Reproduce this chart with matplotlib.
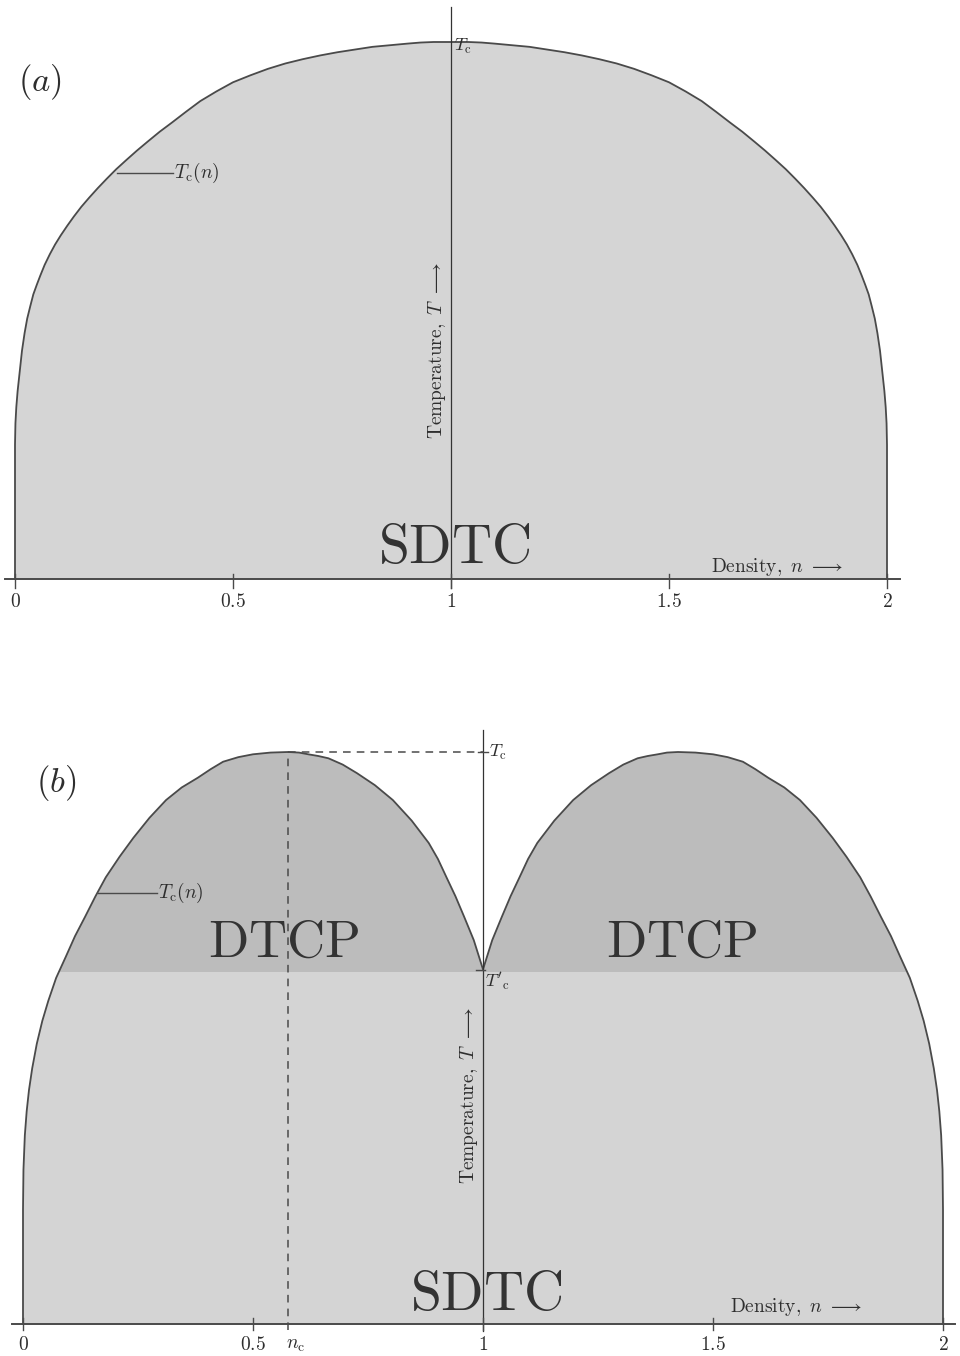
import numpy as np
import matplotlib
matplotlib.use("Agg")
import matplotlib.pyplot as plt
from matplotlib.patches import Rectangle

plt.rcParams["mathtext.fontset"] = "cm"
plt.rcParams["font.family"] = ["DejaVu Serif"]

# ---- (a) 单峰 Tc(n), 读图值 (左半 / 右半) ----
na_left = [0.000, 0.000, 0.001, 0.003, 0.006, 0.010, 0.016, 0.022, 0.028, 0.035, 0.042, 0.050,
           0.058, 0.068, 0.080, 0.092, 0.105, 0.120, 0.135, 0.152, 0.170, 0.190, 0.210, 0.232,
           0.255, 0.280, 0.305, 0.332, 0.360, 0.392, 0.425, 0.462, 0.500, 0.540, 0.580, 0.620,
           0.660, 0.700, 0.740, 0.780, 0.820, 0.860, 0.900, 0.930, 0.960, 0.980, 1.000]
Ta_left = [0.000, 0.250, 0.290, 0.320, 0.350, 0.380, 0.425, 0.458, 0.485, 0.508, 0.530, 0.548,
           0.565, 0.585, 0.605, 0.623, 0.640, 0.658, 0.675, 0.693, 0.710, 0.728, 0.745, 0.763,
           0.780, 0.798, 0.815, 0.833, 0.850, 0.870, 0.890, 0.908, 0.925, 0.938, 0.950, 0.960,
           0.968, 0.975, 0.981, 0.986, 0.991, 0.994, 0.997, 0.999, 1.000, 1.000, 1.000]
na_right = [1.020, 1.040, 1.070, 1.100, 1.140, 1.180, 1.220, 1.260, 1.300, 1.340, 1.380, 1.420,
            1.460, 1.500, 1.538, 1.575, 1.608, 1.640, 1.668, 1.695, 1.720, 1.745, 1.768, 1.790,
            1.810, 1.830, 1.848, 1.865, 1.880, 1.895, 1.908, 1.920, 1.932, 1.942, 1.950, 1.958,
            1.965, 1.972, 1.978, 1.984, 1.990, 1.994, 1.997, 1.999, 2.000, 2.000]
Ta_right = [1.000, 1.000, 0.999, 0.997, 0.994, 0.991, 0.986, 0.981, 0.975, 0.968, 0.960, 0.950,
            0.938, 0.925, 0.908, 0.890, 0.870, 0.850, 0.833, 0.815, 0.798, 0.780, 0.763, 0.745,
            0.728, 0.710, 0.693, 0.675, 0.658, 0.640, 0.623, 0.605, 0.585, 0.565, 0.548, 0.530,
            0.508, 0.485, 0.458, 0.425, 0.380, 0.350, 0.320, 0.290, 0.250, 0.000]

# ---- (b) 双峰 Tc(n): 左峰左侧 / 左峰右侧 / 右峰 ----
nb_l1 = [0.000, 0.000, 0.001, 0.004, 0.008, 0.013, 0.020, 0.030, 0.042, 0.055, 0.072, 0.093,
         0.113, 0.135, 0.157, 0.180, 0.210, 0.240, 0.275, 0.311, 0.345, 0.380, 0.408, 0.435,
         0.468, 0.500, 0.538, 0.576]
Tb_l1 = [0.000, 0.200, 0.270, 0.330, 0.372, 0.409, 0.447, 0.490, 0.530, 0.565, 0.605, 0.642,
         0.678, 0.712, 0.747, 0.781, 0.817, 0.850, 0.885, 0.916, 0.938, 0.955, 0.970, 0.983,
         0.991, 0.996, 0.999, 1.000]
nb_l2 = [0.600, 0.620, 0.642, 0.664, 0.695, 0.726, 0.765, 0.804, 0.845, 0.882, 0.902, 0.920,
         0.940, 0.959, 0.980, 1.000]
Tb_l2 = [0.999, 0.996, 0.993, 0.989, 0.978, 0.963, 0.942, 0.916, 0.880, 0.841, 0.813, 0.782,
         0.748, 0.712, 0.671, 0.620]
nb_r = [1.020, 1.041, 1.060, 1.080, 1.098, 1.118, 1.155, 1.196, 1.235, 1.274, 1.305, 1.336,
        1.358, 1.380, 1.400, 1.424, 1.462, 1.500, 1.532, 1.565, 1.592, 1.620, 1.655, 1.689,
        1.725, 1.760, 1.790, 1.820, 1.843, 1.865, 1.887, 1.907, 1.928, 1.945, 1.958, 1.970,
        1.980, 1.987, 1.992, 1.996, 1.999, 2.000, 2.000]
Tb_r = [0.671, 0.712, 0.748, 0.782, 0.813, 0.841, 0.880, 0.916, 0.942, 0.963, 0.978, 0.989,
        0.993, 0.996, 0.999, 1.000, 0.999, 0.996, 0.991, 0.983, 0.970, 0.955, 0.938, 0.916,
        0.885, 0.850, 0.817, 0.781, 0.747, 0.712, 0.678, 0.642, 0.605, 0.565, 0.530, 0.490,
        0.447, 0.409, 0.372, 0.330, 0.270, 0.200, 0.000]
n_c = 0.576
Tc_b = 1.0
Tcp = 0.615
ticks = [0, 0.5, 1, 1.5, 2]
tick_lbl = ["0", "0.5", "1", "1.5", "2"]

n_a = na_left + na_right
T_a = Ta_left + Ta_right
n_b = nb_l1 + nb_l2 + nb_r
T_b = Tb_l1 + Tb_l2 + Tb_r

W, H = 960, 1356
fig = plt.figure(figsize=(W / 100, H / 100), dpi=100)


def panel(py_top, py_bot, x0, ux, y0, uy):
    # 像素标定: n=0 在 x0, 每单位 ux 像素; T=0 在 y0, 每单位 uy 像素
    ax = fig.add_axes([0, 1 - py_bot / H, 1, (py_bot - py_top) / H])
    ax.set_xlim(-x0 / ux, (W - x0) / ux)
    ax.set_ylim((y0 - py_bot) / uy, (y0 - py_top) / uy)
    ax.axis("off")
    return ax


LC = "#4a4a4a"
TX = "#2e2e2e"
a1 = panel(0, 640, 15, 436, 579, 537)
a2 = panel(680, 1356, 23, 460, 1324, 572)

# ===== (a) =====
a1.fill(n_a, T_a, fc="#d5d5d5", ec="none", zorder=1)
a1.plot(n_a, T_a, color=LC, lw=1.3, zorder=3)
a1.plot([-0.023, 2.03], [0, 0], color=LC, lw=1.4, zorder=3)
a1.plot([1, 1], [-0.016, 1.065], color="#333", lw=0.9, zorder=3)
for t, s in zip(ticks, tick_lbl):
    a1.plot([t, t], [-0.016, 0.01], color=LC, lw=1.0, zorder=3)
    a1.text(t, -0.042, "$%s$" % s, ha="center", va="center", fontsize=14, color=TX)
a1.text(0.057, 0.925, "$(a)$", ha="center", va="center", fontsize=25, color=TX)
a1.plot([0.235, 0.362], [0.756, 0.756], color=LC, lw=1.0, zorder=3)
a1.text(0.365, 0.756, r"$T_\mathrm{c}(n)$", ha="left", va="center", fontsize=14, color=TX)
a1.text(1.008, 0.992, r"$T_\mathrm{c}$", ha="left", va="center", fontsize=13, color=TX)
a1.text(0.993, 0.425, r"$\mathrm{Temperature,}\ T\ \longrightarrow$", rotation=90,
        ha="right", va="center", fontsize=14, color=TX)
a1.text(1.007, 0.03, r"$\mathrm{SDTC}$", ha="center", va="baseline", fontsize=40, color="#333")
a1.text(1.899, 0.013, r"$\mathrm{Density,}\ n\ \longrightarrow$", ha="right", va="baseline",
        fontsize=14, color=TX)

# ===== (b) =====
fb = a2.fill(n_b, T_b, fc="#bcbcbc", ec="none", zorder=1)[0]
low = Rectangle((-0.1, 0), 2.2, Tcp, fc="#d4d4d4", ec="none", zorder=2)
a2.add_patch(low)
low.set_clip_path(fb)
a2.plot(n_b, T_b, color=LC, lw=1.3, zorder=3)
a2.plot([-0.025, 2.025], [0, 0], color=LC, lw=1.4, zorder=3)
a2.plot([1, 1], [-0.012, 1.038], color="#333", lw=0.9, zorder=3)
a2.plot([n_c, n_c], [-0.01, Tc_b], color=LC, lw=1.1, ls=(0, (5, 4)), zorder=3)
a2.plot([n_c, 1], [Tc_b, Tc_b], color=LC, lw=1.1, ls=(0, (5, 4)), zorder=3)
a2.plot([0.99, 1.01], [Tc_b, Tc_b], color=LC, lw=1.0, zorder=3)
a2.plot([0.985, 1.005], [Tcp + 0.004, Tcp + 0.004], color=LC, lw=1.0, zorder=3)
for t, s in zip(ticks, tick_lbl):
    a2.plot([t, t], [-0.011, 0.011], color=LC, lw=1.0, zorder=3)
    a2.text(t, -0.037, "$%s$" % s, ha="center", va="center", fontsize=14, color=TX)
a2.text(n_c + 0.016, -0.037, r"$n_\mathrm{c}$", ha="center", va="center", fontsize=14, color=TX)
a2.text(0.072, 0.946, "$(b)$", ha="center", va="center", fontsize=25, color=TX)
a2.plot([0.163, 0.291], [0.753, 0.753], color=LC, lw=1.0, zorder=3)
a2.text(0.294, 0.753, r"$T_\mathrm{c}(n)$", ha="left", va="center", fontsize=14, color=TX)
a2.text(1.012, Tc_b, r"$T_\mathrm{c}$", ha="left", va="center", fontsize=13, color=TX)
a2.text(1.004, 0.600, r"$T'_\mathrm{c}$", ha="left", va="center", fontsize=13, color=TX)
a2.text(0.567, 0.642, r"$\mathrm{DTCP}$", ha="center", va="baseline", fontsize=38, color="#333")
a2.text(1.433, 0.642, r"$\mathrm{DTCP}$", ha="center", va="baseline", fontsize=38, color="#333")
a2.text(0.994, 0.40, r"$\mathrm{Temperature,}\ T\ \longrightarrow$", rotation=90,
        ha="right", va="center", fontsize=14, color=TX)
a2.text(1.008, 0.0245, r"$\mathrm{SDTC}$", ha="center", va="baseline", fontsize=40, color="#333")
a2.text(1.824, 0.021, r"$\mathrm{Density,}\ n\ \longrightarrow$", ha="right", va="baseline",
        fontsize=14, color=TX)

fig.savefig("out.png", dpi=100)
